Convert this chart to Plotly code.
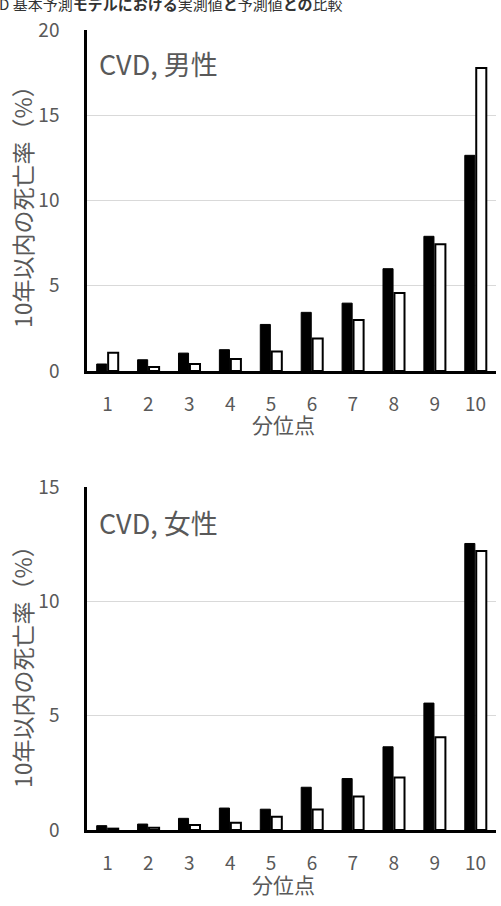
import plotly.graph_objects as go

W, H = 501, 906

categories = ["1", "2", "3", "4", "5", "6", "7", "8", "9", "10"]
male_observed = [0.41, 0.66, 1.05, 1.25, 2.73, 3.44, 3.98, 6.0, 7.9, 12.65]
male_predicted = [1.07, 0.23, 0.41, 0.70, 1.15, 1.90, 2.99, 4.57, 7.44, 17.77]
female_observed = [0.19, 0.26, 0.51, 0.96, 0.91, 1.87, 2.25, 3.64, 5.55, 12.53]
female_predicted = [0.06, 0.10, 0.22, 0.32, 0.58, 0.90, 1.46, 2.30, 4.06, 12.20]

title_text = "D 基本予測<b>モデルにおける</b>実測値<b>と</b>予測値<b>との</b>比較"
panel_labels = ["CVD, 男性", "CVD, 女性"]
y_title = "10年以内の死亡率（%）"
x_title = "分位点"

FONT = "Noto Sans CJK JP"
GRAY = "#595959"

def px_x(p):
    return p / W

def px_y(p):
    return 1 - p / H

fig = go.Figure()

fig.add_trace(go.Bar(x=categories, y=male_observed, marker=dict(color="black", line=dict(color="black", width=1)),
                     xaxis="x", yaxis="y", showlegend=False))
fig.add_trace(go.Bar(x=categories, y=male_predicted, marker=dict(color="white", line=dict(color="black", width=2)),
                     xaxis="x", yaxis="y", showlegend=False))
fig.add_trace(go.Bar(x=categories, y=female_observed, marker=dict(color="black", line=dict(color="black", width=1)),
                     xaxis="x2", yaxis="y2", showlegend=False))
fig.add_trace(go.Bar(x=categories, y=female_predicted, marker=dict(color="white", line=dict(color="black", width=2)),
                     xaxis="x2", yaxis="y2", showlegend=False))

xdom = [px_x(87), px_x(496)]
common_x = dict(showline=True, linecolor="black", linewidth=2.5, showgrid=False, ticks="",
                tickfont=dict(family=FONT, size=19, color=GRAY), ticklabelstandoff=14,
                fixedrange=True, automargin=False)
common_y = dict(showline=True, linecolor="black", linewidth=2.5, showgrid=True, gridcolor="#d9d9d9",
                gridwidth=1.2, ticks="", dtick=5, zeroline=False, automargin=False,
                tickfont=dict(family=FONT, size=19, color=GRAY), ticklabelstandoff=21)

fig.update_layout(
    width=W, height=H,
    margin=dict(l=0, r=0, t=0, b=0, autoexpand=False),
    paper_bgcolor="white", plot_bgcolor="white",
    barmode="group", bargap=0.44, bargroupgap=0.12,
    xaxis=dict(domain=xdom, anchor="y", **common_x),
    yaxis=dict(domain=[px_y(371), px_y(30)], range=[0, 20], anchor="x", **common_y),
    xaxis2=dict(domain=xdom, anchor="y2", **common_x),
    yaxis2=dict(domain=[px_y(830), px_y(487)], range=[0, 15], anchor="x2", **common_y),
)

annotations = [
    dict(text=title_text, x=px_x(-3), y=px_y(3), xanchor="left", yanchor="middle",
         font=dict(family=FONT, size=15, color="#333333")),
    dict(text=panel_labels[0], x=px_x(97), y=px_y(63), xanchor="left", yanchor="middle",
         font=dict(family=FONT, size=27, color=GRAY)),
    dict(text=panel_labels[1], x=px_x(97), y=px_y(522), xanchor="left", yanchor="middle",
         font=dict(family=FONT, size=27, color=GRAY)),
    dict(text=x_title, x=px_x(283), y=px_y(424), xanchor="center", yanchor="middle",
         font=dict(family=FONT, size=21, color=GRAY)),
    dict(text=x_title, x=px_x(283), y=px_y(884), xanchor="center", yanchor="middle",
         font=dict(family=FONT, size=21, color=GRAY)),
    dict(text=y_title, x=px_x(22), y=px_y(201), xanchor="center", yanchor="middle", textangle=-90,
         font=dict(family=FONT, size=23, color=GRAY)),
    dict(text=y_title, x=px_x(22), y=px_y(661), xanchor="center", yanchor="middle", textangle=-90,
         font=dict(family=FONT, size=23, color=GRAY)),
]
for a in annotations:
    a.update(xref="paper", yref="paper", showarrow=False)
fig.update_layout(annotations=annotations)

fig.write_html("out.html", config={"displayModeBar": False})
